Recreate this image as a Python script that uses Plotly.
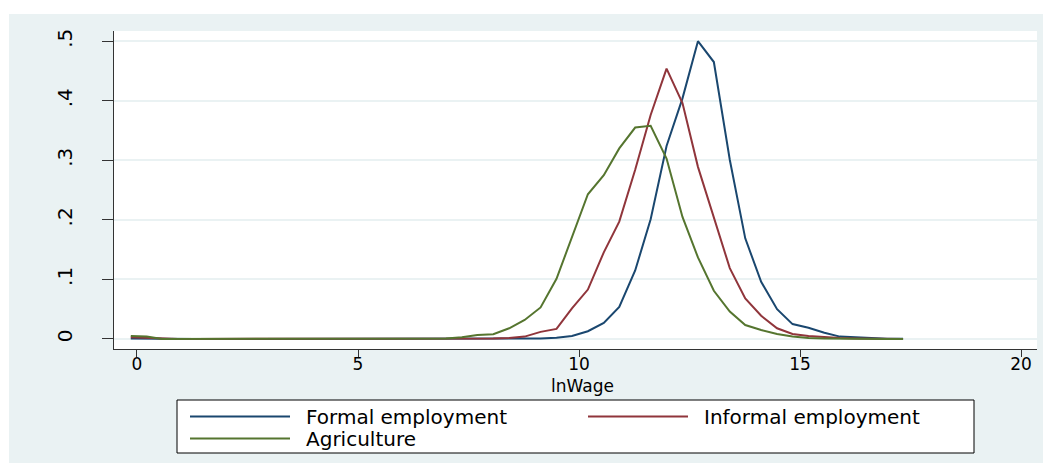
import plotly.graph_objects as go

# ---- data ----
ln_wage = [-0.14, 0.22, 0.57, 0.93, 1.29, 1.64, 2.00, 2.36, 2.71, 3.07,
           3.43, 3.78, 4.14, 4.49, 4.85, 5.21, 5.56, 5.92, 6.28, 6.63,
           6.99, 7.35, 7.70, 8.06, 8.42, 8.77, 9.13, 9.49, 9.84, 10.20,
           10.56, 10.91, 11.27, 11.62, 11.98, 12.34, 12.69, 13.05, 13.41, 13.76,
           14.12, 14.48, 14.83, 15.19, 15.55, 15.90, 16.26, 16.62, 16.97, 17.33]

formal = [0.001, 0.0005, 0, 0, 0, 0, 0, 0, 0, 0,
          0, 0, 0, 0, 0, 0, 0, 0, 0, 0,
          0, 0, 0, 0, 0.0002, 0.0005, 0.001, 0.002, 0.005, 0.013,
          0.027, 0.054, 0.115, 0.201, 0.324, 0.404, 0.500, 0.465, 0.301, 0.169,
          0.096, 0.050, 0.025, 0.019, 0.0106, 0.004, 0.0025, 0.001, 0.0005, 0.0003]

informal = [0.003, 0.002, 0, 0, 0, 0, 0, 0, 0, 0,
            0, 0, 0, 0, 0, 0, 0, 0, 0, 0,
            0, 0.0003, 0.0005, 0.001, 0.0017, 0.004, 0.012, 0.017, 0.0515, 0.083,
            0.1455, 0.197, 0.284, 0.376, 0.454, 0.396, 0.289, 0.203, 0.119, 0.068,
            0.039, 0.018, 0.0084, 0.005, 0.003, 0.0015, 0.0008, 0.0003, 0.0001, 0]

agriculture = [0.005, 0.004, 0, 0, 0, 0, 0, 0, 0, 0,
               0, 0, 0, 0, 0, 0, 0, 0, 0, 0.0005,
               0.001, 0.003, 0.0067, 0.008, 0.018, 0.032, 0.053, 0.101, 0.172, 0.243,
               0.275, 0.320, 0.355, 0.358, 0.303, 0.205, 0.137, 0.081, 0.046, 0.0235,
               0.015, 0.0084, 0.004, 0.0017, 0.001, 0.0005, 0.0003, 0.0001, 0, 0]

series_names = ["Formal employment", "Informal employment", "Agriculture"]
series_colors = ["#1a476f", "#90353b", "#55752f"]

x_ticks = [0, 5, 10, 15, 20]
y_ticks = [0, 0.1, 0.2, 0.3, 0.4, 0.5]
y_tick_labels = ["0", ".1", ".2", ".3", ".4", ".5"]
x_title = "lnWage"

# ---- layout geometry (page pixels; page body has an 8px margin) ----
OFF = 8
W, H = 1051 - OFF, 465 - OFF
L, R, T, B = 114, 1037, 31, 349
pw, ph = R - L, B - T


def px(xpix):
    return (xpix - L) / pw


def py(ypix):
    return (B - ypix) / ph


FONT = "DejaVu Sans"
BG = "#eaf2f3"

fig = go.Figure()
for name, ys, col in zip(series_names, [formal, informal, agriculture], series_colors):
    fig.add_trace(go.Scatter(x=ln_wage, y=ys, mode="lines", name=name,
                             line=dict(color=col, width=2), showlegend=False))

shapes = [
    dict(type="rect", xref="paper", yref="paper", x0=px(9), x1=px(1049), y0=py(463), y1=py(14),
         fillcolor=BG, line=dict(width=0), layer="below"),
    dict(type="rect", xref="paper", yref="paper", x0=0, x1=1, y0=0, y1=1,
         fillcolor="white", line=dict(width=0), layer="below"),
    # legend box
    dict(type="rect", xref="paper", yref="paper", x0=px(177), x1=px(974), y0=py(453), y1=py(400),
         fillcolor="white", line=dict(color="black", width=1), layer="above"),
]
annotations = [
    dict(xref="paper", yref="paper", x=px(582), y=py(386), text=x_title, showarrow=False,
         xanchor="center", yanchor="middle", font=dict(family=FONT, size=17, color="black")),
]
legend_pos = [(190, 416.5), (588, 416.5), (190, 438.5)]
for (lx, ly), name, col in zip(legend_pos, series_names, series_colors):
    shapes.append(dict(type="line", xref="paper", yref="paper", x0=px(lx), x1=px(lx + 100),
                       y0=py(ly), y1=py(ly), line=dict(color=col, width=2), layer="above"))
    annotations.append(dict(xref="paper", yref="paper", x=px(lx + 114), y=py(ly),
                            text=name, showarrow=False, xanchor="left", yanchor="middle",
                            font=dict(family=FONT, size=20, color="black")))

fig.update_layout(
    width=W, height=H,
    margin=dict(l=L - OFF, r=W - (R - OFF), t=T - OFF, b=H - (B - OFF), pad=0),
    paper_bgcolor="white", plot_bgcolor="white",
    shapes=shapes, annotations=annotations,
    showlegend=False,
    font=dict(family=FONT, size=17, color="black"),
)
fig.update_xaxes(
    range=[-0.52, 20.36], tickvals=x_ticks, ticks="outside", ticklen=7, tickwidth=1,
    tickcolor="#333", showline=True, linecolor="#333", linewidth=1, showgrid=False,
    zeroline=False, tickfont=dict(family=FONT, size=17, color="black"),
    ticklabelstandoff=-7,
)
fig.update_yaxes(
    range=[-0.0168, 0.5171], tickvals=y_ticks, ticktext=y_tick_labels, tickangle=-90,
    ticks="outside", ticklen=11, tickwidth=1, tickcolor="#333", showline=True,
    linecolor="#333", linewidth=1, showgrid=True, gridcolor=BG, gridwidth=1.5,
    zeroline=False, tickfont=dict(family=FONT, size=20, color="black"),
    ticklabelstandoff=22,
)

fig.write_html("out.html")
